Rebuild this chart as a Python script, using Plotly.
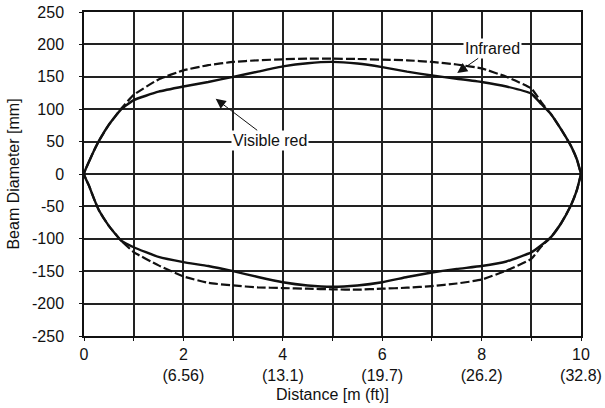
import plotly.graph_objects as go

# Beam profile: distance along the beam [m] and the upper / lower beam edge [mm]
distance_m = [0, 0.1, 0.2, 0.3, 0.5, 0.75, 1, 1.5, 2, 2.5, 3, 3.5, 4, 4.5, 5,
              5.5, 6, 6.5, 7, 7.5, 8, 8.5, 9, 9.2, 9.4, 9.6, 9.8, 9.92, 10]

visible_upper = [0, 19, 36, 51, 76, 100, 114, 127, 135, 142, 150, 158, 166, 171, 173,
                 170.5, 165, 158, 152, 147, 142, 135, 124, 108, 92, 69, 43, 22, 0]
visible_lower = [0, -18, -38, -56, -80, -103, -113, -128, -136, -142, -150, -159, -167, -172, -174,
                 -172, -167, -159, -152, -146.5, -142, -135, -121, -110, -97, -76, -48, -24, 0]

infrared_upper = [0, 19, 36, 51, 76, 101, 122, 146, 160, 168, 173, 175.5, 177, 178, 178,
                  177.5, 176.5, 175.5, 173, 169, 163, 150, 132, 111, 92, 69, 43, 22, 0]
infrared_lower = [0, -18, -38, -56, -80, -103, -120.5, -141, -158, -168, -172, -175, -176, -177, -178,
                  -178.5, -177, -175.5, -173, -169, -163, -149, -131, -112, -97, -76, -48, -24, 0]

x_tick_vals = [0, 1, 2, 3, 4, 5, 6, 7, 8, 9, 10]
x_tick_text = ["0", "", "2<br>(6.56)", "", "4<br>(13.1)", "", "6<br>(19.7)", "",
               "8<br>(26.2)", "", "10<br>(32.8)"]
y_tick_vals = [-250, -200, -150, -100, -50, 0, 50, 100, 150, 200, 250]

FONT = "Liberation Sans, Arial, sans-serif"
FSIZE = 16
INK = "#111111"


def closed_loop(upper, lower):
    xs = distance_m + distance_m[::-1]
    ys = upper + lower[::-1]
    return xs, ys


fig = go.Figure()

xs, ys = closed_loop(visible_upper, visible_lower)
fig.add_trace(go.Scatter(x=xs, y=ys, mode="lines", name="Visible red",
                         line=dict(color=INK, width=2.4, shape="spline", smoothing=0.4)))

xs, ys = closed_loop(infrared_upper, infrared_lower)
fig.add_trace(go.Scatter(x=xs, y=ys, mode="lines", name="Infrared",
                         line=dict(color=INK, width=2.2, dash="9px,3px",
                                   shape="spline", smoothing=0.4)))

# Callout labels with arrows
fig.add_annotation(x=7.51, y=156, ax=8.22, ay=194, axref="x", ayref="y",
                   text="Infrared", showarrow=True, arrowhead=2, arrowsize=2,
                   arrowwidth=1, arrowcolor=INK, bgcolor="white", borderpad=1,
                   font=dict(family=FONT, size=FSIZE, color=INK))
fig.add_annotation(x=2.65, y=116, ax=3.75, ay=52, axref="x", ayref="y",
                   text="Visible red", showarrow=True, arrowhead=2, arrowsize=2,
                   arrowwidth=1, arrowcolor=INK, bgcolor="white", borderpad=1,
                   font=dict(family=FONT, size=FSIZE, color=INK))

axis_common = dict(showline=True, linecolor=INK, linewidth=1.5, mirror=True,
                   showgrid=True, gridcolor="#222222", gridwidth=1.5,
                   zeroline=False, ticks="outside", ticklen=3, tickcolor=INK,
                   automargin=False,
                   tickfont=dict(family=FONT, size=FSIZE, color=INK))

fig.update_xaxes(range=[0, 10], tickmode="array", tickvals=x_tick_vals,
                 ticktext=x_tick_text,
                 title=dict(text="Distance [m (ft)]", standoff=6,
                            font=dict(family=FONT, size=FSIZE, color=INK)),
                 **axis_common)
fig.update_yaxes(range=[-250, 250], tickmode="array", tickvals=y_tick_vals,
                 ticktext=[str(v) for v in y_tick_vals], ticklabelstandoff=12,
                 title=dict(text="Beam Diameter [mm]", standoff=8,
                            font=dict(family=FONT, size=FSIZE, color=INK)),
                 **axis_common)

fig.update_layout(width=605, height=408, showlegend=False,
                  margin=dict(l=84, r=24, t=12, b=72),
                  paper_bgcolor="white", plot_bgcolor="white",
                  font=dict(family=FONT, size=FSIZE, color=INK))

fig.write_html("out.html")
